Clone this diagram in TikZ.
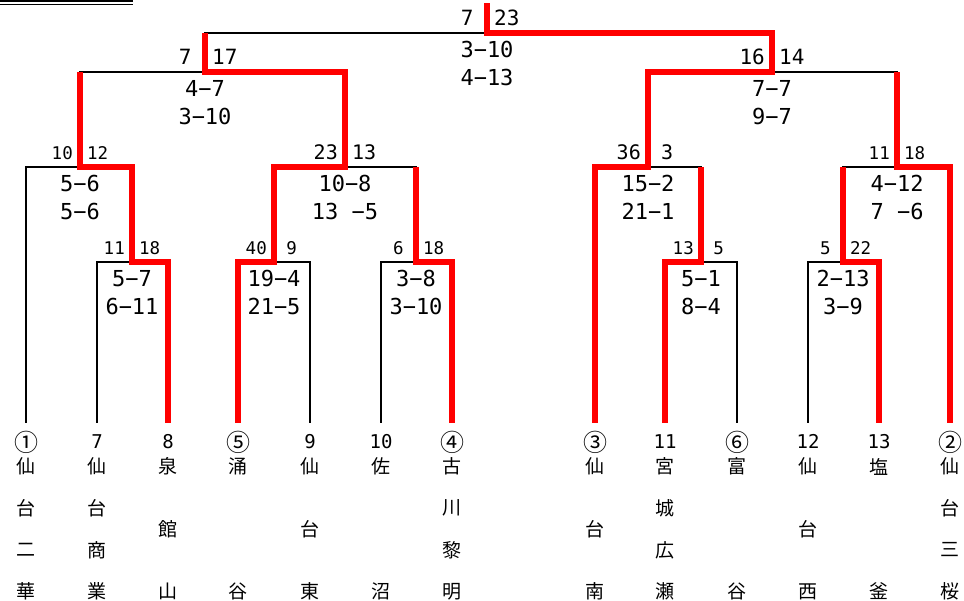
\documentclass[tikz,border=0pt]{standalone}
\usepackage{fontspec}
\setmonofont{DejaVu Sans Mono}
\newfontfamily\jpfont{Noto Sans CJK JP}
\usepackage{tikz}
\usetikzlibrary{calc}
\definecolor{winred}{RGB}{255,0,0}
\newcommand{\cnum}[1]{\raisebox{-3pt}{\jpfont\fontsize{24}{24}\selectfont #1}}
\tikzset{
  kline/.style={line width=2.4pt, draw=black},
  win/.style={line width=6pt, draw=winred},
  pts/.style={inner sep=0pt, font=\ttfamily\fontsize{#1}{#1}\selectfont,
              minimum width={1.204pt*#1}},
  game/.style={inner sep=0pt, anchor=base, font=\ttfamily\fontsize{22}{22}\selectfont},
  seed/.style={inner sep=0pt, anchor=base, font=\ttfamily\fontsize{19}{19}\selectfont},
  kanji/.style={inner sep=0pt, font=\jpfont\fontsize{19}{19}\selectfont},
}

\begin{document}
\begin{tikzpicture}[x=1pt, y=-1pt]
  \useasboundingbox (0,0) rectangle (964,601);
  \draw[line width=2.4pt] (0,1.2) -- (133,1.2);
  \draw[line width=1.6pt] (0,4.5) -- (133,4.5);

  % schools
  \foreach \t/\x/\lab/\gap/\nm in {
      t1/26/{\cnum{①}}/41.67/{仙,台,二,華}, t7/97/7/41.67/{仙,台,商,業},
      t8/168/8/62.5/{泉,館,山}, t5/238/{\cnum{⑤}}/125/{涌,谷},
      t9/310/9/62.5/{仙,台,東}, t10/381/10/125/{佐,沼},
      t4/452/{\cnum{④}}/41.67/{古,川,黎,明}, t3/595/{\cnum{③}}/62.5/{仙,台,南},
      t11/665/11/41.67/{宮,城,広,瀬}, t6/737/{\cnum{⑥}}/125/{富,谷},
      t12/808/12/62.5/{仙,台,西}, t13/879/13/125/{塩,釜},
      t2/950/{\cnum{②}}/41.67/{仙,台,三,桜}}{
    \coordinate (\t) at (\x,423);
    \node[seed] (\t-no) at (\x,448) {\lab};
    \foreach \ch [count=\i from 0] in \nm
      \node[kanji] (\t-\i) at (\x,466.5+\i*\gap) {\ch};
  }

  % games
  \coordinate (champ) at (487,3);
  \coordinate (mF) at (487,33);
  \coordinate (mL3) at (205,72);
  \coordinate (mR3) at (772,72);
  \coordinate (mL2a) at (80,167);
  \coordinate (mL2b) at (345,167);
  \coordinate (mR2a) at (648,167);
  \coordinate (mR2b) at (897,167);
  \coordinate (m78) at (132,262);
  \coordinate (m59) at (274,262);
  \coordinate (m104) at (416,262);
  \coordinate (m116) at (701,262);
  \coordinate (m1213) at (843,262);

  \draw[kline] (t7) |- (m78) -| (t8);
  \draw[kline] (t5) |- (m59) -| (t9);
  \draw[kline] (t10) |- (m104) -| (t4);
  \draw[kline] (t11) |- (m116) -| (t6);
  \draw[kline] (t12) |- (m1213) -| (t13);
  \draw[kline] (t1) |- (mL2a) -| (m78);
  \draw[kline] (m59) |- (mL2b) -| (m104);
  \draw[kline] (t3) |- (mR2a) -| (m116);
  \draw[kline] (m1213) |- (mR2b) -| (t2);
  \draw[kline] (mL2a) |- (mL3) -| (mL2b);
  \draw[kline] (mR2a) |- (mR3) -| (mR2b);
  \draw[kline] (mL3) |- (mF) -| (mR3);

  % winners
  \draw[win] (t8) |- (m78) |- (mL2a) -- (mL2a |- mL3);
  \draw[win] (t5) |- (m59) |- (mL2b) |- (mL3) -- (mL3 |- mF);
  \draw[win] (t4) |- (m104) -- (m104 |- mL2b);
  \draw[win] (t3) |- (mR2a) |- (mR3) |- (mF) -- (champ);
  \draw[win] (t11) |- (m116) -- (m116 |- mR2a);
  \draw[win] (t13) |- (m1213) -- (m1213 |- mR2b);
  \draw[win] (t2) |- (mR2b) -- (mR2b |- mR3);

  % scores
  \foreach \m/\a/\b/\sa/\sb/\fs in {
      mF/7/23/3−10/4−13/21, mL3/7/17/4−7/3−10/21, mR3/16/14/7−7/9−7/21,
      mL2a/10/12/5−6/5−6/17.5, mL2b/23/13/10−8/13 −5/20,
      mR2a/36/3/15−2/21−1/20, mR2b/11/18/4−12/7 −6/17.5,
      m78/11/18/5−7/6−11/17.5, m59/40/9/19−4/21−5/17.5,
      m104/6/18/3−8/3−10/17.5, m116/13/5/5−1/8−4/17.5,
      m1213/5/22/2−13/3−9/17.5}{
    \node[pts=\fs, anchor=base east, xshift=-7pt, yshift=7pt] (\m-a) at (\m) {\a};
    \node[pts=\fs, anchor=base west, xshift=7pt, yshift=7pt] (\m-b) at (\m) {\b};
    \node[game, yshift=-25pt] (\m-s1) at (\m) {\sa};
    \node[game, yshift=-53pt] (\m-s2) at (\m) {\sb};
  }
\end{tikzpicture}
\end{document}
